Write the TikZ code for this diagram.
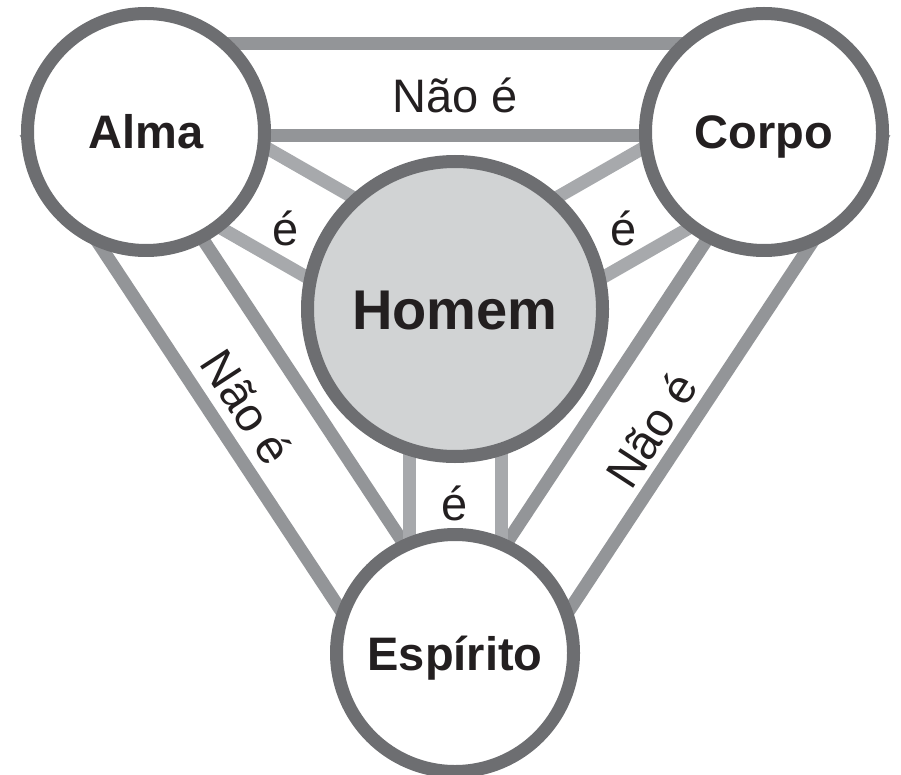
\documentclass[tikz,border=0pt]{standalone}
\usepackage{fontspec}
\setmainfont{Liberation Sans}
\usetikzlibrary{positioning,backgrounds}
\definecolor{ringgray}{HTML}{6D6E71}
\definecolor{bandgray}{HTML}{939598}
\definecolor{innergray}{HTML}{A7A9AC}
\definecolor{homemfill}{HTML}{D1D3D4}
\definecolor{inkgray}{HTML}{231F20}

\begin{document}
\begin{tikzpicture}[x=1pt,y=-1pt,
  ser/.style={circle,draw=ringgray,line width=13pt,fill=white,inner sep=0pt,
    minimum size=237pt,text=inkgray,font=\fontsize{47}{50}\selectfont\bfseries,
    text height=34pt,text depth=0pt},
  nao/.style={draw=bandgray,line width=13pt},
  sim/.style={draw=innergray,line width=13pt},
  rotulo/.style={text=inkgray,font=\fontsize{47}{50}\selectfont,inner sep=0pt,
    text height=34pt,text depth=0pt}]
\useasboundingbox (0,0) rectangle (901,775);

\node[ser] (alma) at (146,132) {Alma};
\node[ser] (corpo) at (764,132) {Corpo};
\node[ser,fill=homemfill,minimum size=295pt,font=\fontsize{56}{60}\selectfont\bfseries,text height=40pt] (homem) at (455,309) {Homem};
\node[ser] (espirito) at (455,653) {Espírito};

\node[rotulo] (naoAC) at (455,96) {Não é};
\node[rotulo,rotate=-57] (naoAE) at (247,407) {Não é};
\node[rotulo,rotate=57] (naoCE) at (651,430) {Não é};
\node[rotulo] (eAH) at (286,229) {é};
\node[rotulo] (eCH) at (624,229) {é};
\node[rotulo] (eHE) at (455,503) {é};

\begin{pgfonlayer}{background}
% nao e
\draw[nao] ([shift={(0,-88)}]alma.center) -- ([shift={(0,-88)}]corpo.center);
\draw[nao] ([shift={(0,4)}]alma.center) -- ([shift={(0,4)}]corpo.center);
\draw[nao] ([shift={(-121,0)}]alma.center) -- ([shift={(-86,0)}]espirito.center);
\draw[nao] ([shift={(-14,0)}]alma.center) -- ([shift={(21,0)}]espirito.center);
\draw[nao] ([shift={(121,0)}]corpo.center) -- ([shift={(86,0)}]espirito.center);
\draw[nao] ([shift={(14,0)}]corpo.center) -- ([shift={(-21,0)}]espirito.center);
% e
\draw[sim] ([shift={(23,-40)}]alma.center) -- ([shift={(23,-40)}]homem.center);
\draw[sim] ([shift={(-23,40)}]alma.center) -- ([shift={(-23,40)}]homem.center);
\draw[sim] ([shift={(-23,-40)}]corpo.center) -- ([shift={(-23,-40)}]homem.center);
\draw[sim] ([shift={(23,40)}]corpo.center) -- ([shift={(23,40)}]homem.center);
\draw[sim] ([shift={(-46,0)}]homem.center) -- ([shift={(-46,0)}]espirito.center);
\draw[sim] ([shift={(46,0)}]homem.center) -- ([shift={(46,0)}]espirito.center);
\end{pgfonlayer}
\end{tikzpicture}
\end{document}
